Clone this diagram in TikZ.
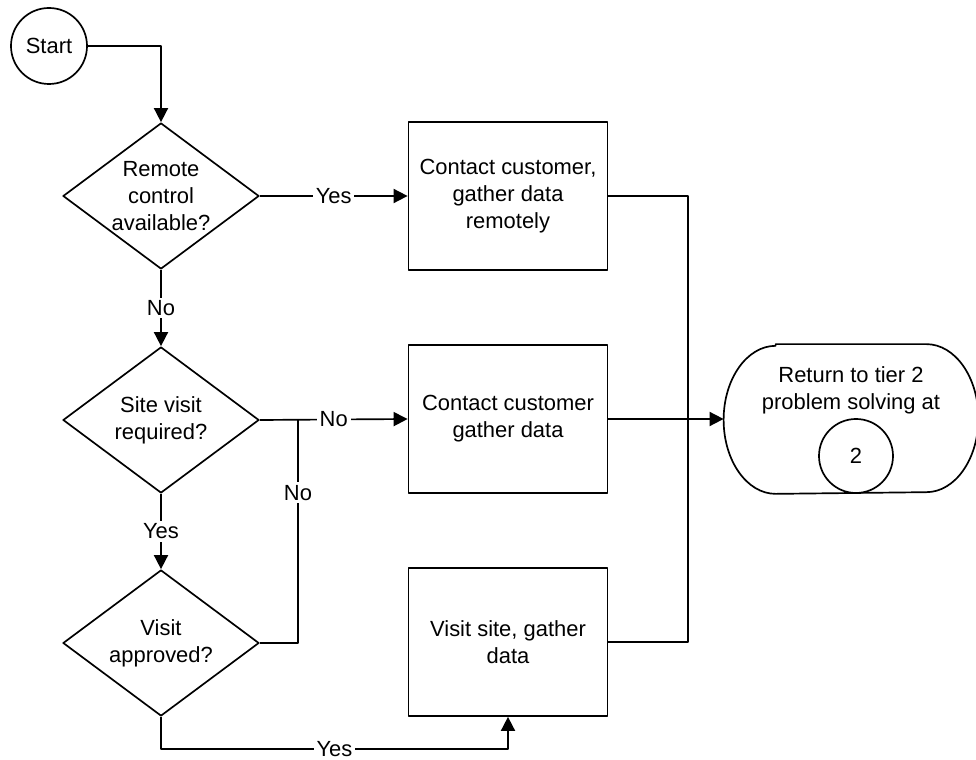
\documentclass[tikz,border=0pt]{standalone}
\usepackage{fontspec}
\setmainfont{Liberation Sans}
\usetikzlibrary{shapes.geometric,arrows.meta}
\begin{document}
\begin{tikzpicture}[x=0.025cm, y=-0.025cm, font=\fontsize{15.6}{19.2}\selectfont, line join=round, line width=1.2pt, >={Triangle[length=10pt,width=10pt]}]
\tikzset{every node/.style={align=center}}
\tikzset{process/.style={draw, rectangle, minimum width=4.975cm, minimum height=3.7cm, inner sep=2pt}}
\tikzset{decision/.style={draw, diamond, minimum width=4.9cm, minimum height=3.65cm, inner sep=0pt}}
\tikzset{connector/.style={draw, circle, minimum size=#1, inner sep=0pt}}
\tikzset{answer/.style={fill=white, inner sep=2pt}}
\useasboundingbox (0,0) rectangle (976,760);
% left column: start and questions
\node[connector=1.9cm] (start) at (49,46) {Start};
\node[decision, label={center:Remote\\control\\available?}] (remote) at (161,196) {};
\node[decision, label={center:Site visit\\required?}] (visitreq) at (161,420) {};
\node[decision, label={center:Visit\\approved?}] (approved) at (161,643) {};
% middle column
\node[process] (remotebox) at (508,196) {Contact customer,\\gather data\\remotely};
\node[process] (phonebox) at (508,419) {Contact customer\\gather data};
\node[process] (sitebox) at (508,642) {Visit site, gather\\data};
% terminator
\node[minimum width=6.325cm, minimum height=3.7cm, inner sep=0pt] (ret) at (851,419) {};
\draw ([xshift=1.3cm]ret.north west) -- ([xshift=-1.3cm]ret.north east)
  arc[start angle=90, end angle=-90, x radius=1.3cm, y radius=1.85cm]
  -- ([xshift=1.3cm]ret.south west)
  arc[start angle=270, end angle=90, x radius=1.3cm, y radius=1.85cm] -- cycle;
\node (rettext) at (851,390) {Return to tier 2\\problem solving at};
\node[connector=1.85cm] (tier) at (856,456) {2};
\coordinate (fork) at (298,419);
\coordinate (join) at (688,419);
% connectors
\draw[->] (start.east) -| (remote.north);
\draw[->] (remote.east) -- node[answer] {Yes} (remotebox.west);
\draw[->] (remote.south) -- node[answer] {No} (visitreq.north);
\draw[->] (visitreq.east) -- node[answer] {No} (phonebox.west);
\draw[->] (visitreq.south) -- node[answer] {Yes} (approved.north);
\draw (approved.east) -| node[answer, pos=0.835] {No} (fork);
\draw[->] (approved.south) -- ++(0,32) -| node[answer, pos=0.25] {Yes} (sitebox.south);
\draw (remotebox.east) -| (join) |- (sitebox.east);
\draw[->] (phonebox.east) -- (ret.west);
\end{tikzpicture}
\end{document}
